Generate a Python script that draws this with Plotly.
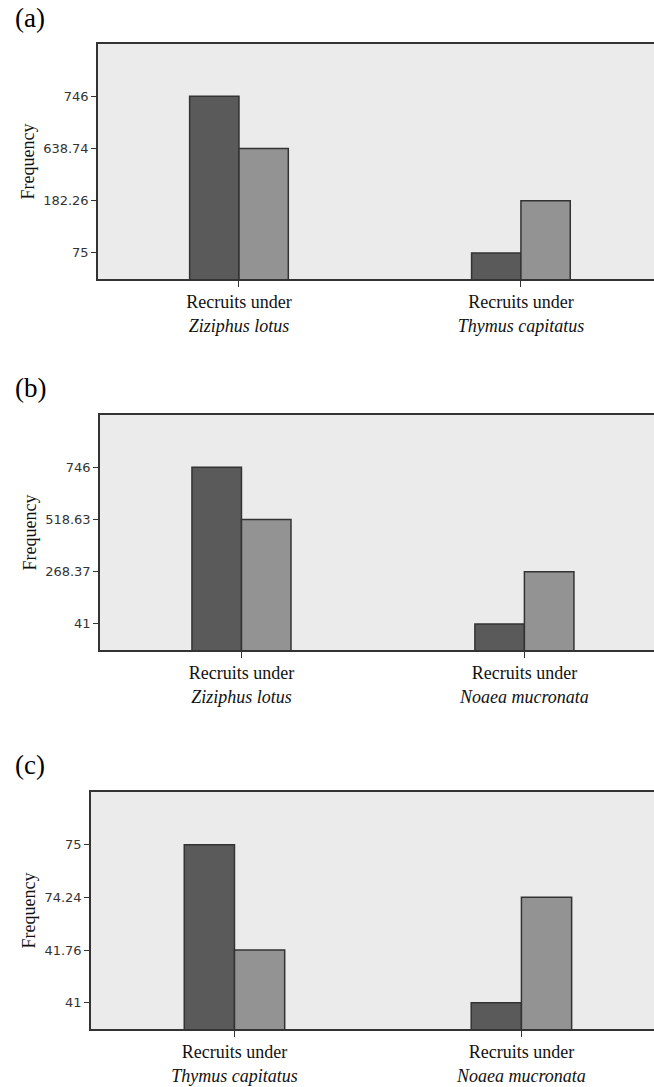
import plotly.graph_objects as go

# ---- data ----
panel_labels = ["(a)", "(b)", "(c)"]
categories_a = ["Recruits under<br><i>Ziziphus lotus</i>", "Recruits under<br><i>Thymus capitatus</i>"]
categories_b = ["Recruits under<br><i>Ziziphus lotus</i>", "Recruits under<br><i>Noaea mucronata</i>"]
categories_c = ["Recruits under<br><i>Thymus capitatus</i>", "Recruits under<br><i>Noaea mucronata</i>"]
observed_a = [746, 75]
expected_a = [638.74, 182.26]
observed_b = [746, 41]
expected_b = [518.63, 268.37]
observed_c = [75, 41]
expected_c = [41.76, 74.24]
tick_labels_a = ["75", "182.26", "638.74", "746"]
tick_labels_b = ["41", "268.37", "518.63", "746"]
tick_labels_c = ["41", "41.76", "74.24", "75"]

W, H = 654, 1087
# pixel geometry: (left, top, bottom, x_end)
geom = [
    (98, 44, 279, 1.472),
    (100, 415, 650, 1.458),
    (91, 792, 1029, 1.462),
]
label_y = [18, 388, 765]

DARK = "#5a5a5a"
LIGHT = "#939393"
EDGE = "#333333"
SERIF = "Liberation Serif, Times New Roman, serif"

panels = [
    (categories_a, observed_a, expected_a, tick_labels_a),
    (categories_b, observed_b, expected_b, tick_labels_b),
    (categories_c, observed_c, expected_c, tick_labels_c),
]

fig = go.Figure()
layout = {}
annotations = []
for i, (cats, obs, exp, tl) in enumerate(panels):
    n = i + 1
    xa = "x" if n == 1 else f"x{n}"
    ya = "y" if n == 1 else f"y{n}"
    # ordinal axis: each value sits at the rank of its tick label
    vals = [float(t) for t in tl]
    rank = lambda v: vals.index(float(v)) + 1
    xs = list(range(len(cats)))
    fig.add_trace(go.Bar(x=xs, y=[rank(v) for v in obs], xaxis=xa, yaxis=ya,
                         marker=dict(color=DARK, line=dict(color=EDGE, width=1.5)),
                         showlegend=False, hoverinfo="skip"))
    fig.add_trace(go.Bar(x=xs, y=[rank(v) for v in exp], xaxis=xa, yaxis=ya,
                         marker=dict(color=LIGHT, line=dict(color=EDGE, width=1.5)),
                         showlegend=False, hoverinfo="skip"))
    left, top, bottom, xend = geom[i]
    xkey = "xaxis" if n == 1 else f"xaxis{n}"
    ykey = "yaxis" if n == 1 else f"yaxis{n}"
    layout[xkey] = dict(
        domain=[left / W, 1], range=[-0.5, xend], anchor=ya,
        tickvals=xs, ticktext=cats, ticks="outside", ticklen=6, tickcolor=EDGE,
        tickwidth=1.2, showline=True, linecolor=EDGE, linewidth=1.5, mirror=True,
        showgrid=False, zeroline=False, fixedrange=True,
        tickfont=dict(family=SERIF, size=18, color="#111111"),
    )
    layout[ykey] = dict(
        domain=[1 - bottom / H, 1 - top / H], range=[0.5, 5], anchor=xa,
        tickvals=[1, 2, 3, 4], ticktext=tl, ticks="outside", ticklen=5,
        tickcolor=EDGE, tickwidth=1.2, showline=True, linecolor=EDGE, linewidth=1.5,
        showgrid=False, zeroline=False, fixedrange=True,
        tickfont=dict(family="DejaVu Sans", size=13, color="#333333"),
        title=dict(text="Frequency", standoff=4,
                   font=dict(family=SERIF, size=18, color="#111111")),
    )
    annotations.append(dict(text=panel_labels[i], x=13 / W, y=1 - label_y[i] / H,
                            xref="paper", yref="paper", xanchor="left", yanchor="middle",
                            showarrow=False,
                            font=dict(family=SERIF, size=27, color="#000000")))

fig.update_layout(
    width=W, height=H, margin=dict(l=0, r=0, t=0, b=0),
    paper_bgcolor="white", plot_bgcolor="#ebebeb",
    barmode="group", bargap=0.65, bargroupgap=0,
    annotations=annotations, **layout,
)
fig.write_html("out.html", config={"displayModeBar": False},
               post_script="document.body.style.margin='0';document.body.style.padding='0';")
